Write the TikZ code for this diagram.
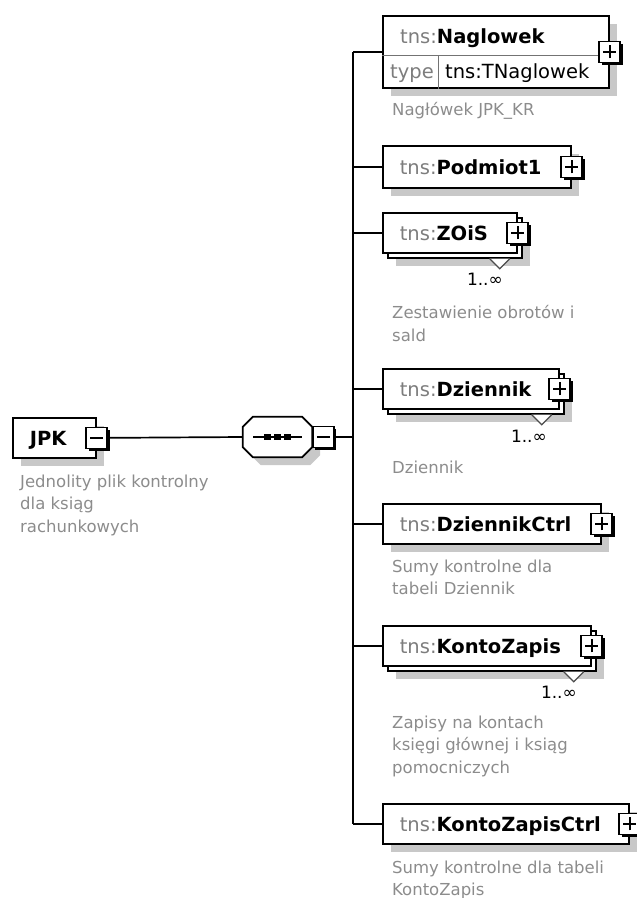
\documentclass[tikz,border=0pt]{standalone}
\usepackage{fontspec}
\setmainfont{DejaVu Sans}
\usetikzlibrary{shadows,positioning,calc}

\definecolor{shadowgray}{RGB}{200,200,200}
\definecolor{tnsgray}{RGB}{125,125,125}
\definecolor{descgray}{RGB}{140,140,140}

\newcommand{\namefont}{\fontsize{19.5}{23}\selectfont}
\newcommand{\elname}[1]{\mbox{{\color{tnsgray}tns:}\textbf{#1}}}

\tikzset{
  elbox/.style={draw, line width=1.7pt, fill=white, anchor=north west, minimum height=40pt,
    inner xsep=17pt, inner ysep=0pt, text width=#1, align=left, text height=15pt, text depth=0pt, font=\namefont},
  shadowed/.style={drop shadow={shadow xshift=8pt, shadow yshift=-8pt, fill=shadowgray, opacity=1}},
  stacked/.style={drop shadow={shadow xshift=13pt, shadow yshift=-13pt, fill=shadowgray, opacity=1},
    copy shadow={shadow xshift=5pt, shadow yshift=-5pt, draw=black, fill=white}},
  plusbox/.style={draw, fill=white, line width=1.5pt, minimum size=21pt, inner sep=0pt,
    drop shadow={shadow xshift=2.5pt, shadow yshift=-2.5pt, fill=black, opacity=1},
    path picture={\draw[line width=1.8pt] ([xshift=-6.5pt]path picture bounding box.center) -- ([xshift=6.5pt]path picture bounding box.center)
      ([yshift=-6.5pt]path picture bounding box.center) -- ([yshift=6.5pt]path picture bounding box.center);}},
  minusbox/.style={draw, fill=white, line width=1.5pt, minimum size=21pt, inner sep=0pt,
    drop shadow={shadow xshift=2.5pt, shadow yshift=-2.5pt, fill=black, opacity=1},
    path picture={\draw[line width=1.8pt] ([xshift=-6.5pt]path picture bounding box.center) -- ([xshift=6.5pt]path picture bounding box.center);}},
  mult/.style={inner sep=0pt, anchor=base east, font=\fontsize{17}{20}\selectfont},
  desc/.style={anchor=north west, align=left, inner sep=0pt, text=descgray, font=\fontsize{16.5}{22.5}\selectfont},
  notch/.style={draw=black!70, line width=1.2pt, fill=white},
  conn/.style={line width=1.7pt},
  sepline/.style={draw=black!55, line width=1pt}
}

\begin{document}
\begin{tikzpicture}[x=1pt, y=-1pt]
\useasboundingbox (0,0) rectangle (637,898);

% JPK
\node[elbox=49pt, shadowed] (jpk) at (12,417) {\textbf{JPK}};
\node[minusbox] (jpkminus) at (jpk.east) {};
\node[desc] (jpkdesc) at (20,474.5) {Jednolity plik kontrolny\\dla ksiąg\\rachunkowych};

% sekwencja
\node[minimum width=69pt, minimum height=40pt, inner sep=0pt] (seq) at (277.5,437) {};
\path[draw, conn, fill=white, shadowed] ($(seq.north west)+(10,0)$) -- ($(seq.north east)+(-10,0)$)
  -- ($(seq.north east)+(0,10)$) -- ($(seq.south east)+(0,-10)$) -- ($(seq.south east)+(-10,0)$)
  -- ($(seq.south west)+(10,0)$) -- ($(seq.south west)+(0,-10)$) -- ($(seq.north west)+(0,10)$) -- cycle;
\draw[conn] ([xshift=-24.5pt]seq.center) -- ([xshift=24.5pt]seq.center);
\foreach \dx in {-10,0,10}
  \fill ([xshift=\dx pt]seq.center) +(-3.3,-3) rectangle +(3.3,3);
\node[minusbox, anchor=west] (seqminus) at (seq.east) {};
\coordinate (bus) at (353,437);

% Naglowek
\node[draw, line width=1.7pt, fill=white, anchor=north west, minimum width=226pt, minimum height=72pt, shadowed] (nag) at (382,15) {};
\draw[sepline] ([yshift=-40pt]nag.north west) -- ([yshift=-40pt]nag.north east);
\draw[sepline] ([xshift=56pt, yshift=-40pt]nag.north west) -- ([xshift=56pt]nag.south west);
\node[anchor=base west, inner sep=0pt, font=\namefont] (nagname) at (400,43) {\elname{Naglowek}};
\node[anchor=base west, inner sep=0pt, font=\namefont, text=tnsgray] (nagtype) at (390,78) {type};
\node[anchor=base west, inner sep=0pt, font=\namefont] (nagtypeval) at (445,78) {tns:TNaglowek};
\node[plusbox] (nagplus) at (nag.east) {};
\node[desc] (nagdesc) at (392,102.5) {Nagłówek JPK\_KR};

% Podmiot1
\node[elbox=154pt, shadowed, minimum height=42pt] (pod) at (382,145) {\elname{Podmiot1}};
\node[plusbox] (podplus) at (pod.east) {};

% ZOiS
\node[elbox=100pt, stacked] (zois) at (382,212) {\elname{ZOiS}};
\draw[notch] ($(zois.south east)+(-28,5)$) -- ++(10,10) -- ++(10,-10);
\node[plusbox] (zoisplus) at (zois.east) {};
\node[mult] (zoismult) at (503,285) {1..∞};
\node[desc] (zoisdesc) at (392,305.5) {Zestawienie obrotów i\\sald};

% Dziennik
\node[elbox=142pt, stacked] (dz) at (382,368) {\elname{Dziennik}};
\draw[notch] ($(dz.south east)+(-28,5)$) -- ++(10,10) -- ++(10,-10);
\node[plusbox] (dzplus) at (dz.east) {};
\node[mult] (dzmult) at (547,442) {1..∞};
\node[desc] (dzdesc) at (392,460.5) {Dziennik};

% DziennikCtrl
\node[elbox=184pt, shadowed] (dzc) at (382,503) {\elname{DziennikCtrl}};
\node[plusbox] (dzcplus) at (dzc.east) {};
\node[desc] (dzcdesc) at (392,559.5) {Sumy kontrolne dla\\tabeli Dziennik};

% KontoZapis
\node[elbox=174pt, stacked] (kz) at (382,625) {\elname{KontoZapis}};
\draw[notch] ($(kz.south east)+(-28,5)$) -- ++(10,10) -- ++(10,-10);
\node[plusbox] (kzplus) at (kz.east) {};
\node[mult] (kzmult) at (577,698) {1..∞};
\node[desc] (kzdesc) at (392,715.5) {Zapisy na kontach\\księgi głównej i ksiąg\\pomocniczych};

% KontoZapisCtrl
\node[elbox=212pt, shadowed] (kzc) at (382,803) {\elname{KontoZapisCtrl}};
\node[plusbox] (kzcplus) at (kzc.east) {};
\node[desc, font=\fontsize{16.5}{22}\selectfont] (kzcdesc) at (392,860.5) {Sumy kontrolne dla tabeli\\KontoZapis};

% linie
\draw[conn] (jpkminus.east) -- (seq.west);
\draw[conn] (seqminus.east) -- (seqminus.east -| bus);
\draw[conn] (nag.west -| bus) -- (kzc.west -| bus);
\foreach \el in {nag,pod,zois,dz,dzc,kz,kzc}
  \draw[conn] (\el.west -| bus) -- (\el.west);
\end{tikzpicture}
\end{document}
